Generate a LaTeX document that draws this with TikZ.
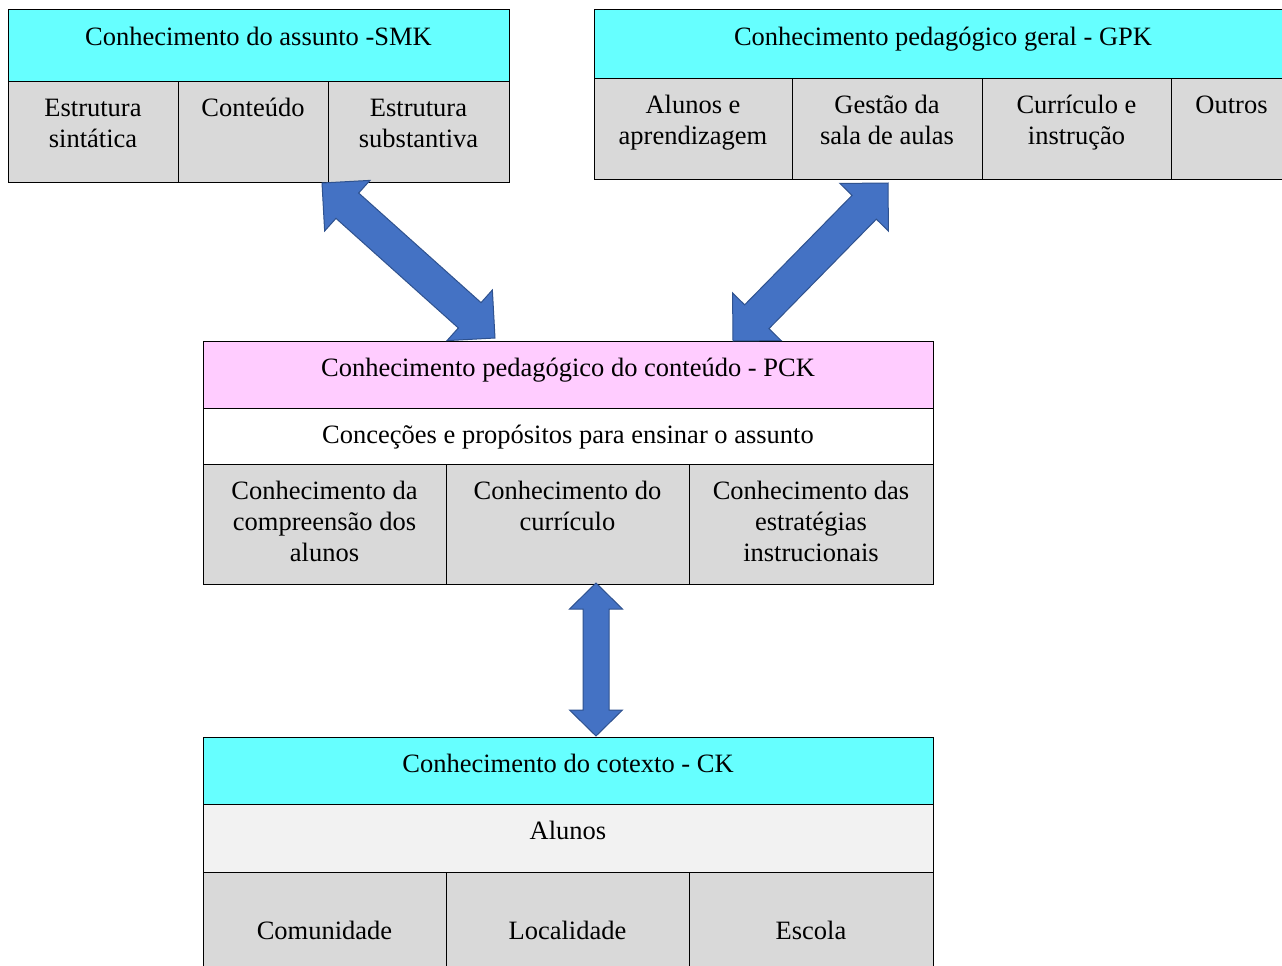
\documentclass[tikz,border=0pt]{standalone}
\usepackage{fontspec}
\setmainfont{Liberation Serif}
\usetikzlibrary{calc}

\definecolor{hdrcyan}{HTML}{66FFFF}
\definecolor{hdrpink}{HTML}{FFCCFF}
\definecolor{cellgray}{HTML}{D9D9D9}
\definecolor{celllight}{HTML}{F2F2F2}
\definecolor{arrowfill}{HTML}{4472C4}
\definecolor{arrowline}{HTML}{2F528F}

\newcommand\cellfont{\fontsize{26.5pt}{31pt}\selectfont}
\newcommand\firststrut{\rule{0pt}{24pt}}

\tikzset{
  cellframe/.style={draw=black, line width=1pt, inner sep=0pt, outer sep=0pt},
  celltext/.style={anchor=north, align=center, inner sep=0pt, font=\cellfont},
  blockarrow/.style={fill=arrowfill, draw=arrowline, line width=1pt, line join=miter},
}

% a filled cell with its text set near the top
\newcommand\cellbox[7]{%
  \node[cellframe, fill=#6, minimum width={#4pt-#2pt}, minimum height={#5pt-#3pt},
        anchor=north west] (#1) at (#2,#3) {};
  \node[celltext] (#1-txt) at ([yshift=-11pt]#1.north) {\firststrut#7};
}

% double-headed block arrow between two named points
% #3 head length, #4 half head width, #5 half shaft width
\newcommand\dblarrow[5]{%
  \coordinate (da-h1) at ($(#1)!#3!(#2)$);
  \coordinate (da-h2) at ($(#2)!#3!(#1)$);
  \draw[blockarrow] (#1)
    -- ($(da-h1)!#4!90:(#2)$) -- ($(da-h1)!#5!90:(#2)$)
    -- ($(da-h2)!#5!-90:(#1)$) -- ($(da-h2)!#4!-90:(#1)$)
    -- (#2)
    -- ($(da-h2)!#4!90:(#1)$) -- ($(da-h2)!#5!90:(#1)$)
    -- ($(da-h1)!#5!-90:(#2)$) -- ($(da-h1)!#4!-90:(#2)$)
    -- cycle;
}

\begin{document}
\begin{tikzpicture}[x=1pt, y=-1pt]
\useasboundingbox (0,0) rectangle (1282,966);
\clip (0,0) rectangle (1282,966);
\fill[white] (0,0) rectangle (1282,966);

% subject matter knowledge
\cellbox{smk}{8}{10}{509}{81}{hdrcyan}{Conhecimento do assunto -SMK}
\cellbox{smk1}{8}{81}{178}{182}{cellgray}{Estrutura\\sintática}
\cellbox{smk2}{178}{81}{328}{182}{cellgray}{Conteúdo}
\cellbox{smk3}{328}{81}{509}{182}{cellgray}{Estrutura\\substantiva}

% general pedagogical knowledge
\cellbox{gpk}{594}{10}{1292}{78}{hdrcyan}{Conhecimento pedagógico geral - GPK}
\cellbox{gpk1}{594}{78}{792}{179}{cellgray}{Alunos e\\aprendizagem}
\cellbox{gpk2}{792}{78}{982}{179}{cellgray}{Gestão da\\sala de aulas}
\cellbox{gpk3}{982}{78}{1171}{179}{cellgray}{Currículo e\\instrução}
\cellbox{gpk4}{1171}{78}{1292}{179}{cellgray}{Outros}

% pedagogical content knowledge
\cellbox{pck}{203}{341}{933}{408}{hdrpink}{Conhecimento pedagógico do conteúdo - PCK}
\cellbox{pckc}{203}{408}{933}{464}{white}{Conceções e propósitos para ensinar o assunto}
\cellbox{pck1}{203}{464}{446}{584}{cellgray}{Conhecimento da\\compreensão dos\\alunos}
\cellbox{pck2}{446}{464}{689}{584}{cellgray}{Conhecimento do\\currículo}
\cellbox{pck3}{689}{464}{933}{584}{cellgray}{Conhecimento das\\estratégias\\instrucionais}

% context knowledge
\cellbox{ck}{203}{737}{933}{804}{hdrcyan}{Conhecimento do cotexto - CK}
\cellbox{cka}{203}{804}{933}{872}{celllight}{Alunos}
\node[cellframe, fill=cellgray, minimum width=243pt, minimum height=130pt, anchor=north west] (ck1) at (203,872) {};
\node[cellframe, fill=cellgray, minimum width=243pt, minimum height=130pt, anchor=north west] (ck2) at (446,872) {};
\node[cellframe, fill=cellgray, minimum width=244pt, minimum height=130pt, anchor=north west] (ck3) at (689,872) {};
\node[celltext] (ck1-txt) at (324.5,915) {\firststrut Comunidade};
\node[celltext] (ck2-txt) at (567.5,915) {\firststrut Localidade};
\node[celltext] (ck3-txt) at (811,915) {\firststrut Escola};

% arrow end points
\coordinate (smk-tip) at (322,183);
\coordinate (pck-tipl) at (495,338);
\coordinate (gpk-tip) at (888,183);
\coordinate (pck-tipr) at (733,341);
\coordinate (pck-tipb) at (596,583);
\coordinate (ck-tip) at (596,736);

\dblarrow{smk-tip}{pck-tipl}{34pt}{34pt}{17pt}
\dblarrow{pck-tipr}{gpk-tip}{34pt}{34pt}{17pt}
\dblarrow{pck-tipb}{ck-tip}{26pt}{26.5pt}{13pt}
\end{tikzpicture}
\end{document}
